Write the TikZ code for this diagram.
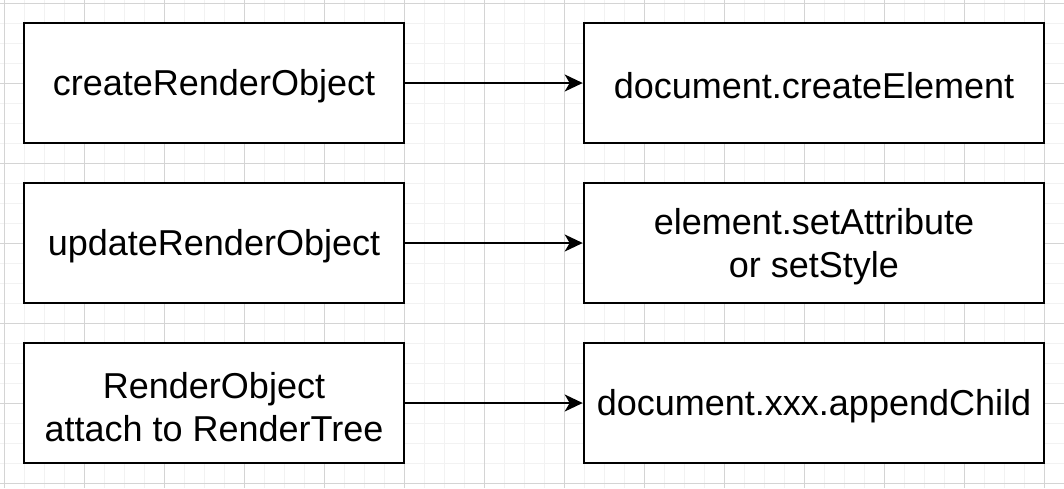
\documentclass[tikz,border=0pt]{standalone}
\usepackage{fontspec}
\setmainfont{Liberation Sans}
\usetikzlibrary{arrows.meta}
\begin{document}
\begin{tikzpicture}[x=1pt,y=-1pt,
  box/.style={draw=black,line width=2.6pt,fill=white,minimum width=380pt,minimum height=120pt,inner sep=0pt},
  txt/.style={align=center,font=\fontsize{36}{43}\selectfont,inner sep=0pt},
  conn/.style={line width=2pt,-{Stealth[length=18pt,width=17pt,inset=5pt]}},
  minorgrid/.style={draw=black!5,line width=1pt},
  majorgrid/.style={draw=black!17,line width=1pt}]
\useasboundingbox (0,0) rectangle (1064,488);
\fill[white] (0,0) rectangle (1064,488);
\foreach \i in {0,...,53} {\draw[minorgrid] (4+20*\i,0) -- (4+20*\i,488);}
\foreach \i in {0,...,24} {\draw[minorgrid] (0,3+20*\i) -- (1064,3+20*\i);}
\foreach \i in {0,...,13} {\draw[majorgrid] (4+80*\i,0) -- (4+80*\i,488);}
\foreach \i in {0,...,6} {\draw[majorgrid] (0,3+80*\i) -- (1064,3+80*\i);}
\node[box] (a1) at (214,83) {};
\node[box,minimum width=460pt] (b1) at (814,83) {};
\node[box] (a2) at (214,243) {};
\node[box,minimum width=460pt] (b2) at (814,243) {};
\node[box] (a3) at (214,403) {};
\node[box,minimum width=460pt] (b3) at (814,403) {};
\node[txt] (ta1) at ([yshift=-3pt]a1.center) {createRenderObject};
\node[txt] (tb1) at ([yshift=-3pt]b1.center) {document.createElement};
\node[txt] (ta2) at ([yshift=-3pt]a2.center) {updateRenderObject};
\node[txt] (tb2) at ([yshift=-4pt]b2.center) {element.setAttribute\\or setStyle};
\node[txt] (ta3) at ([yshift=-4pt]a3.center) {RenderObject\\attach to RenderTree};
\node[txt] (tb3) at ([yshift=-3pt]b3.center) {document.xxx.appendChild};
\draw[conn] (a1) -- (b1);
\draw[conn] (a2) -- (b2);
\draw[conn] (a3) -- (b3);
\end{tikzpicture}
\end{document}
